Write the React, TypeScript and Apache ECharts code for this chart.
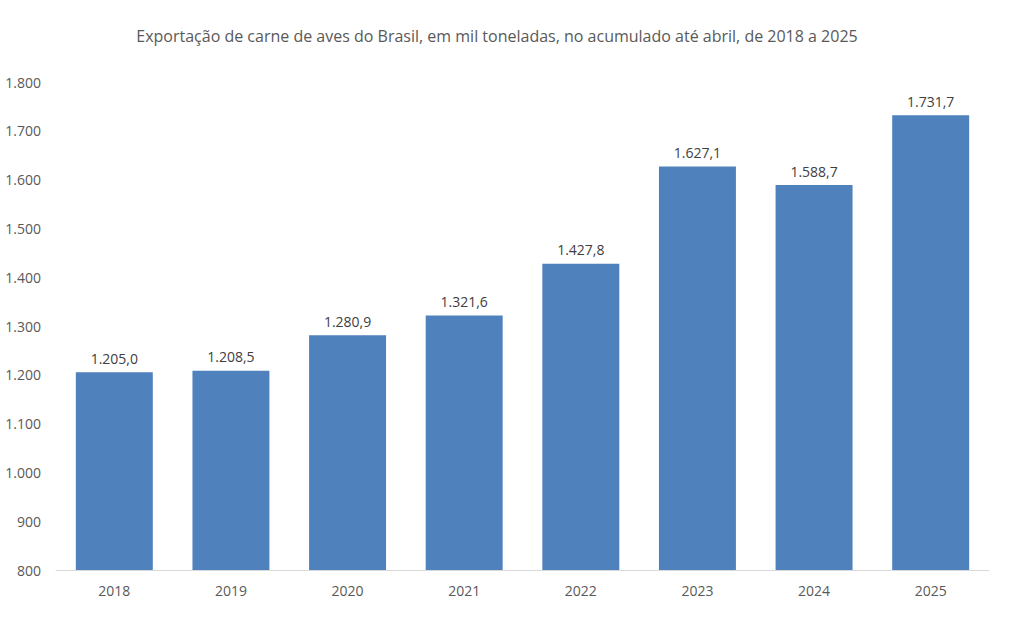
import React, { useEffect, useRef } from "react";
import * as echarts from "echarts";

const title = "Exportação de carne de aves do Brasil, em mil toneladas, no acumulado até abril, de 2018 a 2025";
const years = ["2018", "2019", "2020", "2021", "2022", "2023", "2024", "2025"];
const values = [1205.0, 1208.5, 1280.9, 1321.6, 1427.8, 1627.1, 1588.7, 1731.7];

const fmtInt = (v: number) => {
  const s = Math.round(v).toString();
  return s.replace(/\B(?=(\d{3})+(?!\d))/g, ".");
};
const fmtDec = (v: number) => {
  const [i, d] = v.toFixed(1).split(".");
  return i.replace(/\B(?=(\d{3})+(?!\d))/g, ".") + "," + d;
};

const FONT = "Open Sans";
const GRAY = "#595959";

export default function App() {
  const ref = useRef<HTMLDivElement>(null);
  useEffect(() => {
    const chart = echarts.init(ref.current!, null, { renderer: "svg" });
    chart.setOption({
      animation: false,
      backgroundColor: "#ffffff",
      title: {
        text: title,
        left: 492,
        textAlign: "center",
        top: 23,
        textStyle: { fontFamily: FONT, fontSize: 16, fontWeight: "normal", color: GRAY },
      },
      grid: { left: 56, right: 23, top: 82, bottom: 59, containLabel: false },
      xAxis: {
        type: "category",
        data: years,
        axisLine: { lineStyle: { color: "#d9d9d9", width: 1 } },
        axisTick: { show: false },
        axisLabel: { fontFamily: FONT, fontSize: 14, color: GRAY, margin: 13 },
      },
      yAxis: {
        type: "value",
        min: 800,
        max: 1800,
        interval: 100,
        splitLine: { show: false },
        axisLine: { show: false },
        axisTick: { show: false },
        axisLabel: {
          fontFamily: FONT,
          fontSize: 14,
          color: GRAY,
          margin: 15,
          formatter: (v: number) => fmtInt(v),
        },
      },
      series: [
        {
          type: "bar",
          data: values,
          barWidth: "66%",
          itemStyle: { color: "#4f81bd" },
          label: {
            show: true,
            position: "top",
            distance: 7,
            fontFamily: FONT,
            fontSize: 14,
            color: "#404040",
            formatter: (p: any) => fmtDec(p.value),
          },
        },
      ],
    });
    return () => chart.dispose();
  }, []);
  return (
    <div
      ref={ref}
      style={{ position: "absolute", left: 0, top: 0, width: 1012, height: 629 }}
    />
  );
}
